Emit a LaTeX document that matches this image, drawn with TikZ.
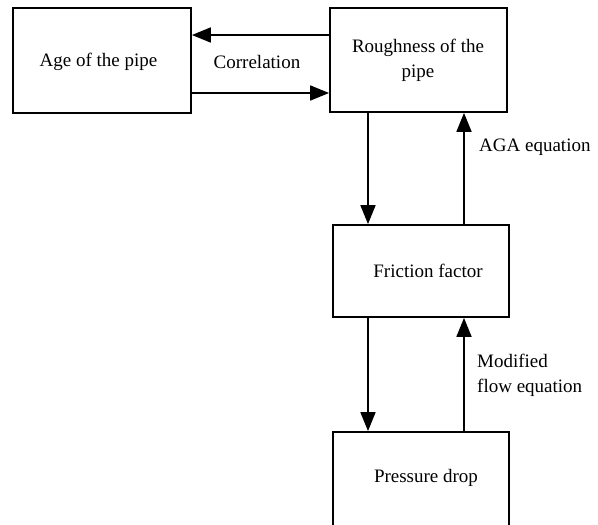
\documentclass[tikz,border=0pt]{standalone}
\usepackage{fontspec}
\setmainfont{Liberation Serif}
\usetikzlibrary{arrows.meta}
\begin{document}
\begin{tikzpicture}[x=1pt,y=-1pt,
  box/.style={draw,line width=1.8pt,rectangle,inner sep=0pt},
  lbl/.style={font=\fontsize{19}{25}\selectfont,inner sep=0pt},
  conn/.style={line width=1.8pt,-{Triangle[length=19pt,width=15pt]}}]
\useasboundingbox (0,0) rectangle (598,525);
% boxes
\node[box,minimum width=178pt,minimum height=105pt] (age) at (102,60.5) {};
\node[box,minimum width=177pt,minimum height=104pt] (rough) at (418.5,60) {};
\node[box,minimum width=176pt,minimum height=92pt] (fric) at (421,271) {};
\node[box,minimum width=176pt,minimum height=96pt] (press) at (421,480) {};
% texts
\node[lbl] (tage) at (98.5,62) {Age of the pipe};
\node[lbl,align=center] (trough) at (418,60) {Roughness of the\\pipe};
\node[lbl] (tfric) at (428,271) {Friction factor};
\node[lbl] (tpress) at (426,478) {Pressure drop};
\node[lbl] (tcorr) at (257,62) {Correlation};
\node[lbl,anchor=west] (taga) at (479,147) {AGA equation};
\node[lbl,anchor=west,align=left] (tmod) at (477,375) {Modified\\flow equation};
% connectors
\draw[conn] (rough.west |- 0,35) -- (age.east |- 0,35);
\draw[conn] (age.east |- 0,93) -- (rough.west |- 0,93);
\draw[conn] (rough.south -| 368,0) -- (fric.north -| 368,0);
\draw[conn] (fric.north -| 464,0) -- (rough.south -| 464,0);
\draw[conn] (fric.south -| 368,0) -- (press.north -| 368,0);
\draw[conn] (press.north -| 464,0) -- (fric.south -| 464,0);
\end{tikzpicture}
\end{document}
